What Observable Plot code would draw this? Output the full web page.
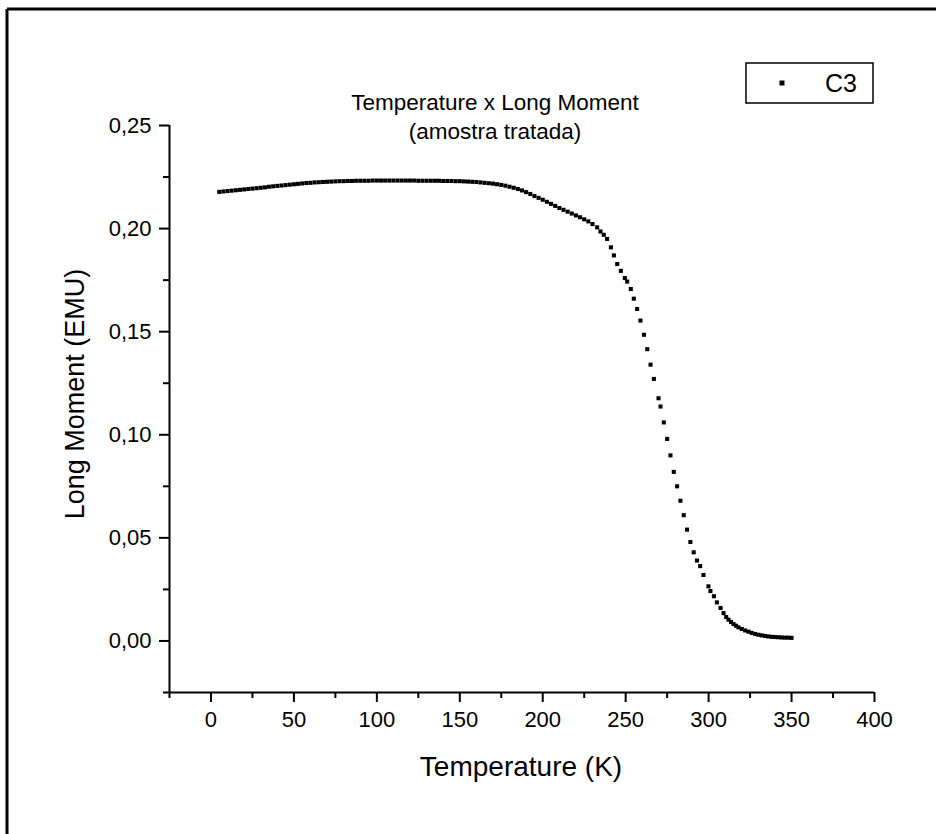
<!DOCTYPE html>
<html><head><meta charset="utf-8">
<script src="https://cdn.jsdelivr.net/npm/d3@7"></script>
<script src="https://cdn.jsdelivr.net/npm/@observablehq/plot@0.6"></script>
<style>html,body{margin:0;padding:0;background:#fff;overflow:hidden}#chart svg{display:block;max-width:none !important}</style>
</head><body><div id="chart"></div>
<script>
const temperature = [
  5, 7.5, 10, 12.5, 15, 17.5, 20, 22.5, 25, 27.5, 30, 32.5, 35, 37.5, 40, 42.5, 45, 47.5, 50, 52.5,
  55, 57.5, 60, 62.5, 65, 67.5, 70, 72.5, 75, 77.5, 80, 82.5, 85, 87.5, 90, 92.5, 95, 97.5, 100, 102.5,
  105, 107.5, 110, 112.5, 115, 117.5, 120, 122.5, 125, 127.5, 130, 132.5, 135, 137.5, 140, 142.5, 145, 147.5, 150, 152.5,
  155, 157.5, 160, 162.5, 165, 167.5, 170, 172.5, 175, 177.5, 180, 182.5, 185, 187.5, 190, 192.5, 195, 197.5, 200, 202.5,
  205, 207.5, 210, 212.5, 215, 217.5, 220, 222.5, 225, 227.5, 230,
  232.8, 234.8, 236.8, 238.8, 241.1, 242.9, 244.9, 247.1, 249.5, 250.9, 253.1, 254.9, 256.9, 258.9, 261.0, 263.0, 265.0, 267.0, 269.8, 271.0,
  273, 275, 277, 279, 281, 283, 285, 287, 289, 291, 293, 294.9, 296.9, 299.9, 301.1, 303.2, 305.0, 307.2,
  309, 310.6, 312, 313.5, 315, 316.5, 318, 320, 322, 324, 326, 328, 330, 332, 334, 336, 338, 340, 342, 344, 346, 348, 350
];
const moment = [
  0.2178, 0.2180, 0.2182, 0.2184, 0.2186, 0.2188, 0.2190, 0.2192, 0.2194, 0.2196, 0.2198, 0.2200, 0.2203, 0.2205, 0.2207, 0.2209, 0.2211, 0.2213, 0.2215, 0.2217,
  0.2219, 0.2221, 0.2222, 0.2224, 0.2225, 0.2226, 0.2227, 0.2228, 0.2229, 0.2230, 0.2230, 0.2231, 0.2231, 0.2232, 0.2232, 0.2232, 0.2232, 0.2233, 0.2233, 0.2233,
  0.2233, 0.2233, 0.2233, 0.2233, 0.2233, 0.2233, 0.2233, 0.2233, 0.2232, 0.2232, 0.2232, 0.2232, 0.2232, 0.2232, 0.2231, 0.2231, 0.2231, 0.2230, 0.2230, 0.2229,
  0.2228, 0.2227, 0.2226, 0.2224, 0.2222, 0.2220, 0.2218, 0.2215, 0.2212, 0.2208, 0.2203, 0.2198, 0.2192, 0.2185, 0.2177, 0.2168, 0.2158, 0.2149, 0.2140, 0.2130,
  0.2120, 0.2110, 0.2100, 0.2091, 0.2082, 0.2073, 0.2064, 0.2055, 0.2045, 0.2035, 0.2022,
  0.2006, 0.1986, 0.1970, 0.1950, 0.1909, 0.1870, 0.1828, 0.1795, 0.1760, 0.1743, 0.1707, 0.1660, 0.1610, 0.1554, 0.1485, 0.1415, 0.1340, 0.1271, 0.1177, 0.1137,
  0.106, 0.098, 0.090, 0.082, 0.075, 0.068, 0.061, 0.054, 0.048, 0.043, 0.039, 0.0363, 0.0320, 0.0265, 0.0242, 0.0217, 0.0187, 0.0160,
  0.0135, 0.0116, 0.0103, 0.0092, 0.0082, 0.0074, 0.0066, 0.0058, 0.0051, 0.0045, 0.0039, 0.0034, 0.0030, 0.0027, 0.0024, 0.0022, 0.0020, 0.0019, 0.0018, 0.0017, 0.0016, 0.0016, 0.0015
];
const xMajorTicks = [0, 50, 100, 150, 200, 250, 300, 350, 400];
const xMinorTicks = [-25, 25, 75, 125, 175, 225, 275, 325, 375];
const yMajorTicks = [0, 0.05, 0.10, 0.15, 0.20, 0.25];
const yMinorTicks = [-0.025, 0.025, 0.075, 0.125, 0.175, 0.225];
const titleLines = ["Temperature x Long Moment", "(amostra tratada)"];
const seriesName = "C3";
const xLabel = "Temperature (K)";
const yLabel = "Long Moment (EMU)";

const data = temperature.map((t, i) => ({t, m: moment[i]}));
const font = "Arial, 'Liberation Sans', sans-serif";
const fmt = d => d.toFixed(2).replace(".", ",");

const plot = Plot.plot({
  width: 936, height: 834,
  marginLeft: 169, marginRight: 62, marginTop: 125, marginBottom: 142,
  style: {fontFamily: font, background: "white", overflow: "visible"},
  x: {domain: [-25, 400]},
  y: {domain: [-0.025, 0.25]},
  marks: [
    Plot.axisX({ticks: xMinorTicks, tickSize: 6, text: null, label: null, strokeWidth: 2, color: "black"}),
    Plot.axisX({ticks: xMajorTicks, tickSize: 10, tickPadding: 9, fontSize: 22, label: null, strokeWidth: 2, color: "black", tickFormat: d => String(d)}),
    Plot.axisY({ticks: yMinorTicks, tickSize: 6, text: null, label: null, strokeWidth: 2, color: "black"}),
    Plot.axisY({ticks: yMajorTicks, tickSize: 10, tickPadding: 8, fontSize: 22, label: null, strokeWidth: 2, color: "black", tickFormat: fmt}),
    Plot.ruleX([-25], {y1: -0.025, y2: 0.25, strokeWidth: 2, stroke: "black"}),
    Plot.ruleY([-0.025], {x1: -25, x2: 400, strokeWidth: 2, stroke: "black"}),
    Plot.dot(data, {x: "t", y: "m", symbol: "square", r: 2.3, fill: "black", stroke: "none"})
  ]
});

const svg = d3.select(plot);
// outer frame (top and left edges visible)
svg.append("line").attr("x1", 7).attr("y1", 9).attr("x2", 936).attr("y2", 9).attr("stroke", "black").attr("stroke-width", 3);
svg.append("line").attr("x1", 7).attr("y1", 9).attr("x2", 7).attr("y2", 834).attr("stroke", "black").attr("stroke-width", 3);
// title
svg.append("text").attr("x", 495).attr("y", 110).attr("text-anchor", "middle").attr("font-size", 22.5).attr("font-family", font).attr("fill", "black").text(titleLines[0]);
svg.append("text").attr("x", 495).attr("y", 139).attr("text-anchor", "middle").attr("font-size", 22.5).attr("font-family", font).attr("fill", "black").text(titleLines[1]);
// axis labels
svg.append("text").attr("x", 521).attr("y", 776).attr("text-anchor", "middle").attr("font-size", 28).attr("font-family", font).attr("fill", "black").text(xLabel);
svg.append("text").attr("transform", "translate(84,394) rotate(-90)").attr("text-anchor", "middle").attr("font-size", 27).attr("font-family", font).attr("fill", "black").text(yLabel);
// legend
svg.append("rect").attr("x", 746).attr("y", 63).attr("width", 127).attr("height", 40).attr("fill", "white").attr("stroke", "black").attr("stroke-width", 1.5);
svg.append("rect").attr("x", 779.5).attr("y", 80.5).attr("width", 5).attr("height", 5).attr("fill", "black");
svg.append("text").attr("x", 825).attr("y", 92).attr("text-anchor", "start").attr("font-size", 25).attr("font-family", font).attr("fill", "black").text(seriesName);

document.getElementById("chart").appendChild(plot);
</script>
</body></html>
